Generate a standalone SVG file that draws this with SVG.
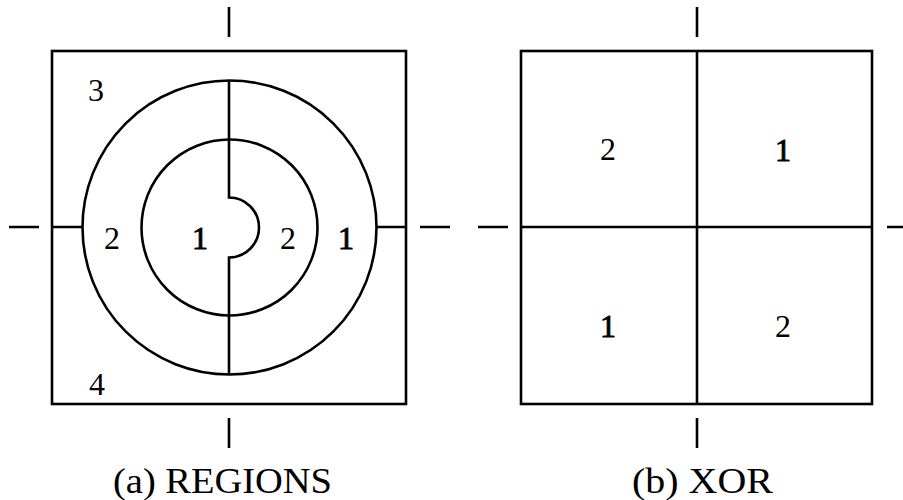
<svg xmlns="http://www.w3.org/2000/svg" width="903" height="500" viewBox="0 0 903 500">
<style>
.ln{fill:none;stroke:#000;stroke-width:2.6;stroke-linecap:butt}
.dg{font-family:"Liberation Serif",serif;font-size:32px;text-anchor:middle;fill:#000}
.b{stroke:#000;stroke-width:0.9}
.cap{font-family:"Liberation Serif",serif;font-size:36px;fill:#000}
</style>
<rect width="903" height="500" fill="#fff"/>
<g id="panel-a">
<rect class="ln" x="52" y="51" width="354" height="353"/>
<circle class="ln" cx="229.5" cy="227.5" r="147"/>
<circle class="ln" cx="229.5" cy="227.5" r="88"/>
<path class="ln" d="M229,80.5 V197.5 A30,30 0 0 1 229,257.5 V374.5"/>
<path class="ln" d="M52,227 H82.5 M376.5,227 H406"/>
<path class="ln" d="M9,227 H39 M420,227 H450 M229,7 V37 M229,418 V448"/>
<text class="dg" x="96" y="101">3</text>
<text class="dg" x="97" y="395">4</text>
<text class="dg" x="112" y="249">2</text>
<text class="dg b" x="200" y="249">1</text>
<text class="dg" x="288" y="249">2</text>
<text class="dg b" x="346" y="249">1</text>
<text class="cap" x="113" y="493" textLength="219" lengthAdjust="spacingAndGlyphs">(a) REGIONS</text>
</g>
<g id="panel-b">
<rect class="ln" x="521" y="51" width="351" height="353"/>
<path class="ln" d="M697,51 V404 M521,227 H872"/>
<path class="ln" d="M478,227 H508 M887,227 H903 M697,7 V37 M697,418 V448"/>
<text class="dg" x="608" y="160">2</text>
<text class="dg b" x="783" y="161">1</text>
<text class="dg b" x="608" y="337">1</text>
<text class="dg" x="783" y="337">2</text>
<text class="cap" x="632" y="493" textLength="141" lengthAdjust="spacingAndGlyphs">(b) XOR</text>
</g>
</svg>
